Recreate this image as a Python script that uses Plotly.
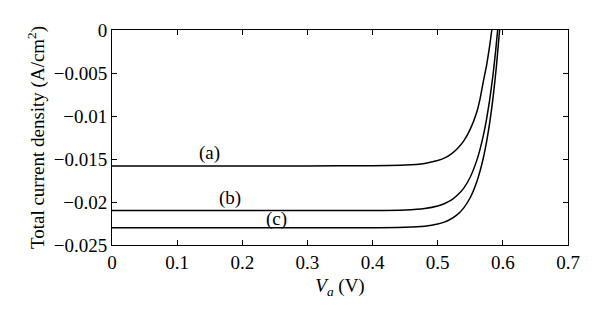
import plotly.graph_objects as go

# J-V curves for three cells: applied voltage (V) vs total current density (A/cm^2)
v_a = [0.0, 0.1, 0.2, 0.3, 0.4, 0.45, 0.48, 0.50, 0.51, 0.52, 0.53, 0.54, 0.55, 0.56, 0.565,
       0.57, 0.575, 0.58, 0.583]
j_a = [-0.0158, -0.0158, -0.0158, -0.01580, -0.01579, -0.01571, -0.01551, -0.01518, -0.01490,
       -0.01445, -0.01380, -0.01289, -0.01153, -0.00953, -0.0080, -0.0060, -0.0041, -0.0017, 0.0]

v_b = [0.0, 0.1, 0.2, 0.3, 0.4, 0.45, 0.48, 0.50, 0.51, 0.52, 0.53, 0.54, 0.55, 0.56, 0.565,
       0.57, 0.575, 0.58, 0.585, 0.589, 0.592]
j_b = [-0.0210, -0.0210, -0.0210, -0.02100, -0.02099, -0.02093, -0.02076, -0.02047, -0.02020,
       -0.01982, -0.01922, -0.01838, -0.01709, -0.01516, -0.01385, -0.01229, -0.01035, -0.0080,
       -0.00513, -0.00237, 0.0]

v_c = [0.0, 0.1, 0.2, 0.3, 0.4, 0.45, 0.48, 0.50, 0.51, 0.52, 0.53, 0.54, 0.55, 0.56, 0.565,
       0.57, 0.575, 0.58, 0.585, 0.59, 0.595]
j_c = [-0.0230, -0.0230, -0.0230, -0.02300, -0.02299, -0.02294, -0.02281, -0.02256, -0.02234,
       -0.02199, -0.02147, -0.02068, -0.01948, -0.01764, -0.01640, -0.01488, -0.01300, -0.01069,
       -0.00784, -0.00432, 0.0]

labels = ["(a)", "(b)", "(c)"]
label_x = [0.150, 0.181, 0.253]
label_y = [-0.0143, -0.0195, -0.0220]

x_ticks = [0, 0.1, 0.2, 0.3, 0.4, 0.5, 0.6, 0.7]
y_ticks = [0, -0.005, -0.01, -0.015, -0.02, -0.025]

FONT = "Liberation Serif, Times New Roman, serif"
FS = 19

fig = go.Figure()
for vx, jy in [(v_a, j_a), (v_b, j_b), (v_c, j_c)]:
    fig.add_trace(go.Scatter(x=vx, y=jy, mode="lines",
                             line=dict(color="black", width=1.5, shape="spline", smoothing=0.5),
                             showlegend=False, hoverinfo="skip"))

for t, lx, ly in zip(labels, label_x, label_y):
    fig.add_annotation(x=lx, y=ly, text=t, showarrow=False,
                       font=dict(family=FONT, size=FS, color="black"))

axis_common = dict(showline=True, linecolor="black", linewidth=1, mirror="ticks",
                   ticks="inside", ticklen=5, tickcolor="black", showgrid=False,
                   zeroline=False, tickfont=dict(family=FONT, size=FS, color="black"))

fig.update_xaxes(range=[0, 0.7], tickvals=x_ticks, ticktext=[f"{v:g}" for v in x_ticks],
                 title=dict(text="<i>V<sub>a</sub></i> (V)", font=dict(family=FONT, size=FS, color="black"),
                            standoff=6),
                 **axis_common)
fig.update_yaxes(range=[-0.025, 0], tickvals=y_ticks,
                 ticktext=["0" if v == 0 else "\u2212" + f"{-v:g}" for v in y_ticks],
                 title=dict(text="Total current density (A/cm<sup>2</sup>)",
                            font=dict(family=FONT, size=FS, color="black"), standoff=4),
                 **axis_common)

fig.update_layout(width=600, height=326, margin=dict(l=112, r=32, t=30, b=81),
                  plot_bgcolor="white", paper_bgcolor="white")

fig.write_html("out.html")
